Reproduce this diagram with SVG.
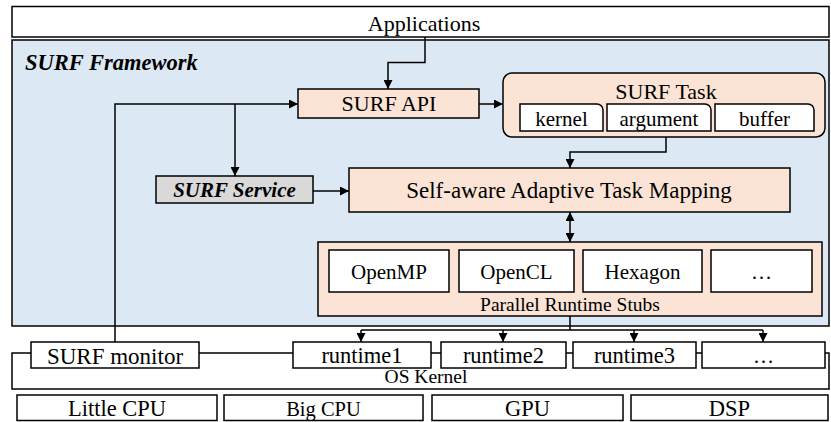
<svg xmlns="http://www.w3.org/2000/svg" width="831" height="422" viewBox="0 0 831 422">
<defs>
<marker id="ah" viewBox="0 0 10 10" refX="10" refY="5" markerWidth="9" markerHeight="9" markerUnits="userSpaceOnUse" orient="auto-start-reverse">
<path d="M0,0 L10,5 L0,10 z" fill="#000"/>
</marker>
<style>
.box{stroke:#000;stroke-width:1.5}
.w{fill:#fff}
.pe{fill:#fbe4d5}
.gr{fill:#d9d9d9}
.bl{fill:#dde8f5}
text{font-family:'Liberation Serif','DejaVu Serif',serif;fill:#000;text-anchor:middle}
.bi{font-weight:bold;font-style:italic}
.c{fill:none;stroke:#000;stroke-width:1.5}
</style>
</defs>
<rect width="831" height="422" fill="#fff"/>
<g id="applications">
<rect class="box w" x="12" y="6.5" width="817" height="30.5"/>
<text x="424" y="31" font-size="22" font-family="Liberation Serif, DejaVu Serif, serif">Applications</text>
</g>
<g id="framework">
<rect class="box bl" x="12" y="40" width="817" height="286"/>
<text class="bi" x="25" y="70" font-size="22.5" font-family="Liberation Serif, DejaVu Serif, serif" style="text-anchor:start">SURF Framework</text>
</g>
<g id="surf-api">
<rect class="box pe" x="298" y="89" width="181" height="29"/>
<text x="389" y="111" font-size="22" font-family="Liberation Serif, DejaVu Serif, serif">SURF API</text>
</g>
<g id="surf-task">
<rect class="box pe" x="503" y="73" width="322" height="64" rx="9"/>
<text x="666" y="99" font-size="22" font-family="Liberation Serif, DejaVu Serif, serif">SURF Task</text>
<path class="box w" d="M520,104 H597 A6,6 0 0 1 603,110 V131 H520 Z"/>
<text x="561.5" y="126" font-size="21" font-family="Liberation Serif, DejaVu Serif, serif">kernel</text>
<path class="box w" d="M607,104 H705 A6,6 0 0 1 711,110 V131 H607 Z"/>
<text x="659" y="126" font-size="21" font-family="Liberation Serif, DejaVu Serif, serif">argument</text>
<path class="box w" d="M715,104 H808 A6,6 0 0 1 814,110 V131 H715 Z"/>
<text x="764.5" y="126" font-size="21" font-family="Liberation Serif, DejaVu Serif, serif">buffer</text>
</g>
<g id="surf-service">
<rect class="box gr" x="156" y="176" width="157" height="27"/>
<text class="bi" x="234.5" y="197" font-size="21" font-family="Liberation Serif, DejaVu Serif, serif">SURF Service</text>
</g>
<g id="task-mapping">
<rect class="box pe" x="349" y="168" width="441" height="44"/>
<text x="569" y="198" font-size="23" font-family="Liberation Serif, DejaVu Serif, serif">Self-aware Adaptive Task Mapping</text>
</g>
<g id="runtime-stubs">
<rect class="box pe" x="318" y="242" width="504" height="74"/>
<rect class="box w" x="329" y="250" width="120" height="42"/>
<text x="389" y="279" font-size="21" font-family="Liberation Serif, DejaVu Serif, serif">OpenMP</text>
<rect class="box w" x="459" y="250" width="115" height="42"/>
<text x="516.5" y="279" font-size="21" font-family="Liberation Serif, DejaVu Serif, serif">OpenCL</text>
<rect class="box w" x="583" y="250" width="119" height="42"/>
<text x="642.5" y="279" font-size="21" font-family="Liberation Serif, DejaVu Serif, serif">Hexagon</text>
<rect class="box w" x="711" y="250" width="101" height="42"/>
<text x="761.5" y="279" font-size="21" font-family="Liberation Serif, DejaVu Serif, serif">…</text>
<text x="570" y="311" font-size="19.5" font-family="Liberation Serif, DejaVu Serif, serif">Parallel Runtime Stubs</text>
</g>
<g id="os-kernel">
<rect class="box w" x="12" y="353" width="817" height="36"/>
<text x="426" y="383" font-size="19.5" font-family="Liberation Serif, DejaVu Serif, serif">OS Kernel</text>
</g>
<g id="surf-monitor">
<rect class="box w" x="31" y="342" width="168" height="26"/>
<text x="115" y="364" font-size="23" font-family="Liberation Serif, DejaVu Serif, serif">SURF monitor</text>
</g>
<g id="runtime1">
<rect class="box w" x="293" y="342" width="138" height="26"/>
<text x="362" y="363" font-size="22.5" font-family="Liberation Serif, DejaVu Serif, serif">runtime1</text>
</g>
<g id="runtime2">
<rect class="box w" x="441" y="342" width="125" height="26"/>
<text x="503.5" y="363" font-size="22.5" font-family="Liberation Serif, DejaVu Serif, serif">runtime2</text>
</g>
<g id="runtime3">
<rect class="box w" x="573" y="342" width="123" height="26"/>
<text x="634.5" y="363" font-size="22.5" font-family="Liberation Serif, DejaVu Serif, serif">runtime3</text>
</g>
<g id="runtime-more">
<rect class="box w" x="702" y="342" width="123" height="26"/>
<text x="763.5" y="363" font-size="21" font-family="Liberation Serif, DejaVu Serif, serif">…</text>
</g>
<g id="little-cpu">
<rect class="box w" x="17" y="395" width="200" height="25.5"/>
<text x="117" y="416" font-size="22.5" font-family="Liberation Serif, DejaVu Serif, serif">Little CPU</text>
</g>
<g id="big-cpu">
<rect class="box w" x="224" y="395" width="199" height="25.5"/>
<text x="323.5" y="416" font-size="20.5" font-family="Liberation Serif, DejaVu Serif, serif">Big CPU</text>
</g>
<g id="gpu">
<rect class="box w" x="432" y="395" width="191" height="25.5"/>
<text x="527.5" y="416" font-size="22.5" font-family="Liberation Serif, DejaVu Serif, serif">GPU</text>
</g>
<g id="dsp">
<rect class="box w" x="631" y="395" width="197" height="25.5"/>
<text x="729.5" y="416" font-size="22.5" font-family="Liberation Serif, DejaVu Serif, serif">DSP</text>
</g>
<g id="connectors">
<path class="c" d="M425,37 V62.5 H388 V89" marker-end="url(#ah)"/>
<path class="c" d="M115,342 V104 H298" marker-end="url(#ah)"/>
<path class="c" d="M235,104 V176" marker-end="url(#ah)"/>
<path class="c" d="M479,104 H503" marker-end="url(#ah)"/>
<path class="c" d="M666,137 V152 H570 V168" marker-end="url(#ah)"/>
<path class="c" d="M313,191 H349" marker-end="url(#ah)"/>
<path class="c" d="M570,212 V242" marker-start="url(#ah)" marker-end="url(#ah)"/>
<path class="c" d="M570,316 V330 M361,330 H763"/>
<path class="c" d="M361,330 V342" marker-end="url(#ah)"/>
<path class="c" d="M503,330 V342" marker-end="url(#ah)"/>
<path class="c" d="M634,330 V342" marker-end="url(#ah)"/>
<path class="c" d="M763,330 V342" marker-end="url(#ah)"/>
</g>
</svg>
